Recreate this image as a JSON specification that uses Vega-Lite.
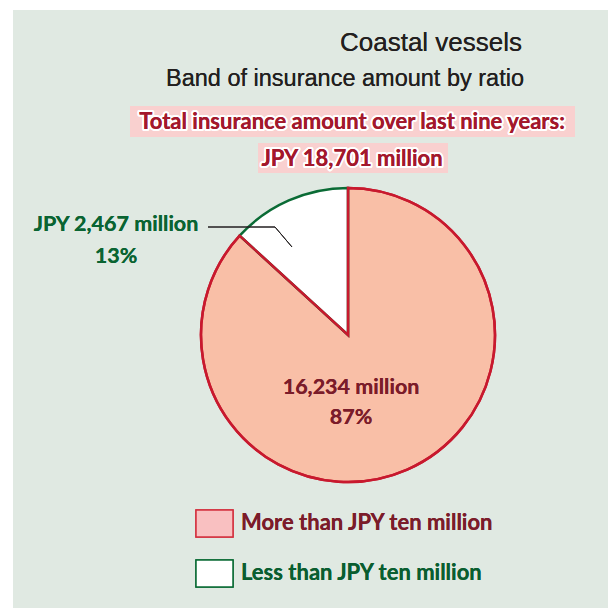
{
  "$schema": "https://vega.github.io/schema/vega-lite/v6.json",
  "width": 595,
  "height": 598,
  "autosize": {"type": "none"},
  "padding": {"left": 13, "top": 10, "right": 0, "bottom": 0},
  "background": "#ffffff",
  "view": {"fill": "#e0e9e2", "stroke": null},
  "datasets": {
    "pie": [
      {"band": "More than JPY ten million", "amount": 16234},
      {"band": "Less than JPY ten million", "amount": 2467}
    ]
  },
  "data": {"name": "pie"},
  "layer": [
    {
      "transform": [{"stack": "amount", "groupby": [], "as": ["t0", "t1"]}],
      "mark": {"type": "arc", "outerRadius": 147, "strokeWidth": 2.5},
      "encoding": {
        "theta": {"field": "t0", "type": "quantitative", "scale": {"domain": [0, 18701]}},
        "theta2": {"field": "t1"},
        "x": {"datum": 348, "type": "quantitative", "scale": {"domain": [13, 608], "nice": false, "zero": false}, "axis": null},
        "y": {"datum": 335, "type": "quantitative", "scale": {"domain": [10, 608], "nice": false, "zero": false, "reverse": true}, "axis": null},
        "fill": {"field": "band", "type": "nominal", "scale": {"domain": ["More than JPY ten million", "Less than JPY ten million"], "range": ["#f9bfa7", "#ffffff"]}, "legend": null},
        "stroke": {"field": "band", "type": "nominal", "scale": {"domain": ["More than JPY ten million", "Less than JPY ten million"], "range": ["#c8192e", "#0a6b35"]}, "legend": null}
      }
    },
    {
      "transform": [{"stack": "amount", "groupby": [], "as": ["t0", "t1"]}, {"filter": "datum.band == 'More than JPY ten million'"}],
      "mark": {"type": "arc", "outerRadius": 147, "strokeWidth": 2.5, "fillOpacity": 0, "stroke": "#c8192e"},
      "encoding": {
        "theta": {"field": "t0", "type": "quantitative"},
        "theta2": {"field": "t1"},
        "x": {"datum": 348, "type": "quantitative"},
        "y": {"datum": 335, "type": "quantitative"}
      }
    },
    {
      "mark": {"type": "rect", "fill": "#f9d0cf"},
      "encoding": {
        "x": {"datum": 130, "type": "quantitative"}, "x2": {"datum": 575},
        "y": {"datum": 106, "type": "quantitative"}, "y2": {"datum": 137}
      }
    },
    {
      "mark": {"type": "rect", "fill": "#f9d0cf"},
      "encoding": {
        "x": {"datum": 258, "type": "quantitative"}, "x2": {"datum": 448},
        "y": {"datum": 143, "type": "quantitative"}, "y2": {"datum": 173}
      }
    },
    {
      "mark": {"type": "text", "text": "Coastal vessels", "font": "Liberation Sans", "fontSize": 26, "color": "#231f20", "align": "center", "baseline": "middle"},
      "encoding": {"x": {"datum": 431, "type": "quantitative"}, "y": {"datum": 43, "type": "quantitative"}}
    },
    {
      "mark": {"type": "text", "text": "Band of insurance amount by ratio", "font": "Liberation Sans", "fontSize": 23.5, "color": "#231f20", "align": "center", "baseline": "middle"},
      "encoding": {"x": {"datum": 345, "type": "quantitative"}, "y": {"datum": 79, "type": "quantitative"}}
    },
    {
      "mark": {"type": "text", "text": "Total insurance amount over last nine years:", "font": "Lato", "fontWeight": "bold", "fontSize": 22, "stroke": "#ffffff", "strokeWidth": 4, "strokeJoin": "round", "color": "#ffffff", "align": "center", "baseline": "middle"},
      "encoding": {"x": {"datum": 352, "type": "quantitative"}, "y": {"datum": 122, "type": "quantitative"}}
    },
    {
      "mark": {"type": "text", "text": "Total insurance amount over last nine years:", "font": "Lato", "fontWeight": "bold", "fontSize": 22, "color": "#a3182c", "align": "center", "baseline": "middle"},
      "encoding": {"x": {"datum": 352, "type": "quantitative"}, "y": {"datum": 122, "type": "quantitative"}}
    },
    {
      "mark": {"type": "text", "text": "JPY 18,701 million", "font": "Lato", "fontWeight": "bold", "fontSize": 22, "stroke": "#ffffff", "strokeWidth": 4, "strokeJoin": "round", "color": "#ffffff", "align": "center", "baseline": "middle"},
      "encoding": {"x": {"datum": 352, "type": "quantitative"}, "y": {"datum": 159, "type": "quantitative"}}
    },
    {
      "mark": {"type": "text", "text": "JPY 18,701 million", "font": "Lato", "fontWeight": "bold", "fontSize": 22, "color": "#a3182c", "align": "center", "baseline": "middle"},
      "encoding": {"x": {"datum": 352, "type": "quantitative"}, "y": {"datum": 159, "type": "quantitative"}}
    },
    {
      "mark": {"type": "rule", "color": "#231f20", "strokeWidth": 1},
      "encoding": {"x": {"datum": 208, "type": "quantitative"}, "x2": {"datum": 275}, "y": {"datum": 227, "type": "quantitative"}, "y2": {"datum": 227}}
    },
    {
      "mark": {"type": "rule", "color": "#231f20", "strokeWidth": 1},
      "encoding": {"x": {"datum": 275, "type": "quantitative"}, "x2": {"datum": 292}, "y": {"datum": 227, "type": "quantitative"}, "y2": {"datum": 247}}
    },
    {
      "mark": {"type": "text", "text": "JPY 2,467 million", "font": "Lato", "fontWeight": "bold", "fontSize": 21.5, "color": "#0a6432", "align": "center", "baseline": "middle"},
      "encoding": {"x": {"datum": 116, "type": "quantitative"}, "y": {"datum": 225, "type": "quantitative"}}
    },
    {
      "mark": {"type": "text", "text": "13%", "font": "Lato", "fontWeight": "bold", "fontSize": 21.5, "color": "#0a6432", "align": "center", "baseline": "middle"},
      "encoding": {"x": {"datum": 116, "type": "quantitative"}, "y": {"datum": 257, "type": "quantitative"}}
    },
    {
      "mark": {"type": "text", "text": "16,234 million", "font": "Lato", "fontWeight": "bold", "fontSize": 21.5, "color": "#7b1c2a", "align": "center", "baseline": "middle"},
      "encoding": {"x": {"datum": 351, "type": "quantitative"}, "y": {"datum": 388, "type": "quantitative"}}
    },
    {
      "mark": {"type": "text", "text": "87%", "font": "Lato", "fontWeight": "bold", "fontSize": 21.5, "color": "#7b1c2a", "align": "center", "baseline": "middle"},
      "encoding": {"x": {"datum": 351, "type": "quantitative"}, "y": {"datum": 418, "type": "quantitative"}}
    },
    {
      "mark": {"type": "rect", "fill": "#f9c0c1", "stroke": "#d3303f", "strokeWidth": 1.5},
      "encoding": {"x": {"datum": 196, "type": "quantitative"}, "x2": {"datum": 233}, "y": {"datum": 510, "type": "quantitative"}, "y2": {"datum": 537}}
    },
    {
      "mark": {"type": "rect", "fill": "#ffffff", "stroke": "#0a6b35", "strokeWidth": 1.5},
      "encoding": {"x": {"datum": 196, "type": "quantitative"}, "x2": {"datum": 233}, "y": {"datum": 560, "type": "quantitative"}, "y2": {"datum": 587}}
    },
    {
      "mark": {"type": "text", "text": "More than JPY ten million", "font": "Lato", "fontWeight": "bold", "fontSize": 22, "color": "#7b1c2a", "align": "left", "baseline": "middle"},
      "encoding": {"x": {"datum": 241, "type": "quantitative"}, "y": {"datum": 523, "type": "quantitative"}}
    },
    {
      "mark": {"type": "text", "text": "Less than JPY ten million", "font": "Lato", "fontWeight": "bold", "fontSize": 22, "color": "#0a5e30", "align": "left", "baseline": "middle"},
      "encoding": {"x": {"datum": 241, "type": "quantitative"}, "y": {"datum": 573, "type": "quantitative"}}
    }
  ]
}
